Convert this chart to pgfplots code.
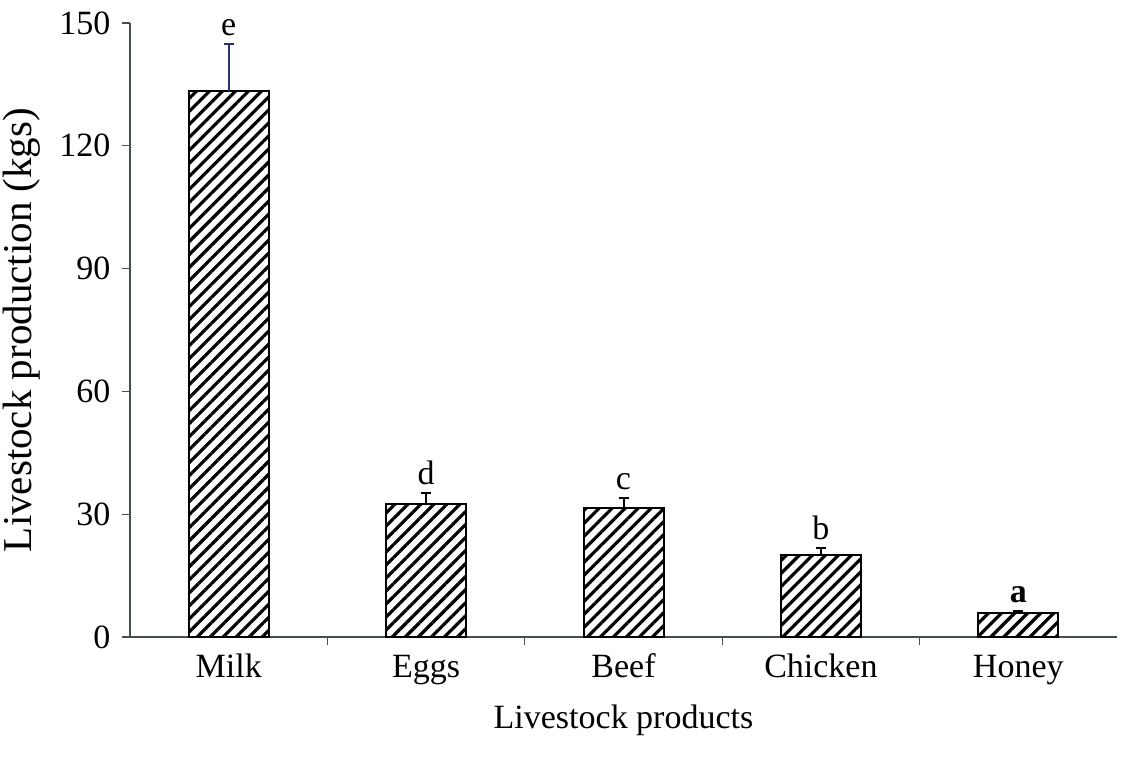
\documentclass[border=0pt]{standalone}
\usepackage{fontspec}
\setmainfont{Liberation Serif}
\usepackage{pgfplots}
\pgfplotsset{compat=1.18}
\usetikzlibrary{patterns.meta}
\definecolor{axisgray}{RGB}{70,80,75}
\definecolor{errblue}{RGB}{40,50,120}
\begin{document}
\fontsize{17}{20}\selectfont
\begin{tikzpicture}
\begin{axis}[
  scale only axis,
  width=493.5pt, height=307pt,
  xmin=-0.5, xmax=4.5,
  ymin=0, ymax=150,
  ytick={0,30,60,90,120,150},
  xtick={0,1,2,3,4},
  xticklabels={Milk,Eggs,Beef,Chicken,Honey},
  minor xtick={0.5,1.5,2.5,3.5},
  major x tick style={draw=none},
  minor tick length=4pt,
  major tick length=4pt,
  tick align=outside,
  axis x line*=bottom,
  axis y line*=left,
  axis line style={axisgray, line width=0.6pt, -},
  every tick/.style={axisgray, line width=0.6pt},
  /pgf/number format/assume math mode=true,
  tick label style={font=\fontsize{17}{20}\selectfont},
  x tick label style={yshift=2pt, text height=0.72em, text depth=0.25em},
  xlabel style={font=\fontsize{17}{20}\selectfont, at={(axis description cs:0.5,0)}, anchor=center, yshift=-41.5pt},
  ylabel style={font=\fontsize{20.5}{24}\selectfont, at={(axis description cs:0,0.5)}, anchor=center, yshift=54pt},
  xlabel={Livestock products},
  ylabel={Livestock production (kgs)},
  clip=false,
]
\addplot[ybar, bar width=40pt, bar shift=0pt, draw=black, line width=1pt,
  pattern={Lines[angle=45, distance=4.6pt, line width=1.6pt]}, pattern color=black,
  error bars/.cd, y dir=plus, y explicit, error mark=-,
  error bar style={errblue, line width=1pt},
  error mark options={rotate=90, errblue, line width=1pt, mark size=2.5pt}]
  coordinates {(0,133.4) +- (0,11.5)};
\addplot[ybar, bar width=40pt, bar shift=0pt, draw=black, line width=1pt,
  pattern={Lines[angle=45, distance=4.6pt, line width=1.6pt]}, pattern color=black,
  error bars/.cd, y dir=plus, y explicit, error mark=-,
  error bar style={black, line width=1pt},
  error mark options={rotate=90, black, line width=1pt, mark size=2.5pt}]
  coordinates {(1,32.4) +- (0,2.7) (2,31.4) +- (0,2.6) (3,20.0) +- (0,1.7) (4,5.8) +- (0,0.6)};
\addplot[draw=none, mark=none, nodes near coords, point meta=explicit symbolic,
  nodes near coords style={font=\fontsize{17}{20}\selectfont, anchor=south, inner sep=4pt}]
  coordinates {(0,144.9) [e] (1,35.1) [d] (2,34.0) [c] (3,21.7) [b] (4,6.4) [\textbf{a}]};
\end{axis}
\pgfresetboundingbox
\path (-65pt,-59.5pt) rectangle (496pt,318.5pt);
\end{tikzpicture}
\end{document}
